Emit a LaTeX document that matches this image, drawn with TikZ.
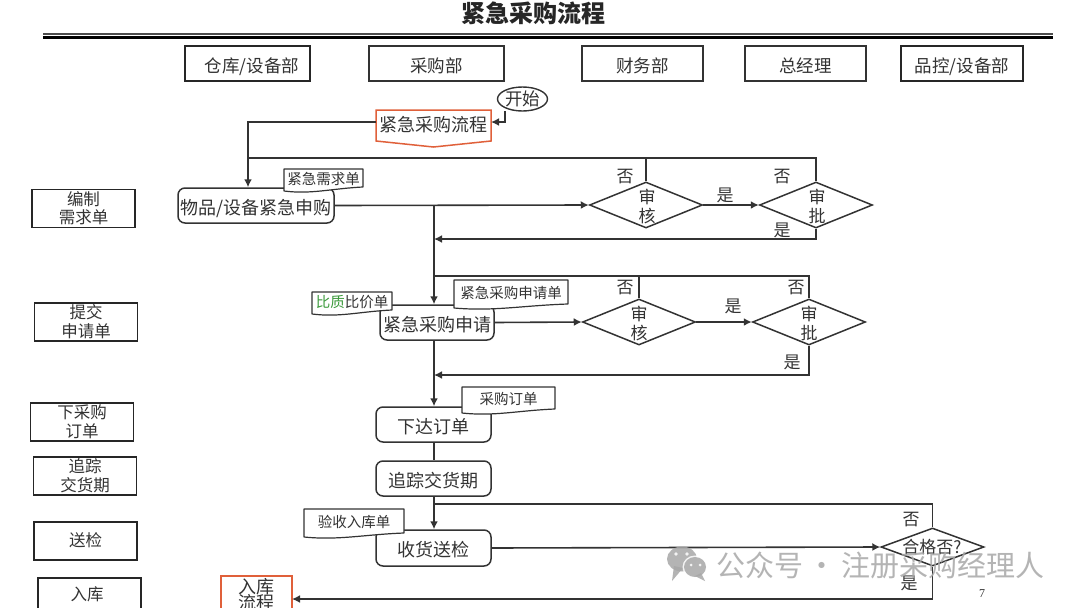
\documentclass[tikz,border=0pt]{standalone}
\usepackage{fontspec}
\setmainfont{Noto Sans CJK SC}
\newfontfamily\serifnum{Liberation Serif}
\usetikzlibrary{arrows.meta,shapes.geometric,calc}
\definecolor{ink}{HTML}{333333}
\definecolor{orangeedge}{HTML}{E0603A}
\definecolor{greenword}{HTML}{3C9A3C}
\definecolor{wmgray}{HTML}{A8A8A8}
\newcommand{\fs}[1]{\fontsize{#1}{#1}\selectfont}
% name, x1, ytop, x2, y bottom right, y bottom left, text
\newcommand{\docnode}[7]{%
  \path[draw=ink,line width=1.2pt,fill=white,line join=round]
    (#2,#3) -- (#4,#3) -- (#4,#5)
    .. controls ({#2+(#4-#2)*0.6},{#5+1.5}) and ({#2+(#4-#2)*0.35},{#6+3.5}) .. (#2,#6) -- cycle;
  \node[tx,font=\fs{14.5}] (#1) at ({(#2+#4)/2},{(#3+#5)/2}) {#7};}
\tikzset{
  x=1pt,y=-1pt,
  tx/.style={inner sep=0pt,text=ink,align=center,font=\fs{17},yshift=-1pt},
  lowtxt/.style={text height=21pt,text depth=4pt},
  hdrthick/.style={draw=black!85,line width=1.9pt,fill=white,inner sep=0pt,text=ink,font=\fs{17.5},lowtxt,minimum width=#1,minimum height=35pt},
  hdrthin/.style={draw=ink,line width=1.1pt,fill=white,inner sep=0pt,text=ink,font=\fs{17.5},lowtxt,minimum width=#1,minimum height=35pt},
  sidebox/.style={draw=black!85,line width=1.8pt,fill=white,inner sep=0pt,minimum width=103pt,minimum height=38pt},
  sidetx/.style={inner sep=0pt,text=ink,align=center,font=\fs{16.5},yshift=0.5pt},
  proc/.style={draw=ink,line width=1.5pt,rounded corners=7pt,fill=white,inner sep=0pt,text=ink,font=\fs{18},lowtxt,minimum width=#1,minimum height=35pt},
  dia/.style={draw=ink,line width=1.5pt,diamond,aspect=2.4,inner sep=0pt,fill=white,minimum width=#1,minimum height=46pt},
  wire/.style={draw=ink,line width=1.6pt},
  arr/.style={wire,-{Latex[length=8pt,width=8pt]}},
  redge/.style={draw=orangeedge,line width=1.5pt,fill=white},
}
\begin{document}
\begin{tikzpicture}
\useasboundingbox[fill=white] (0,0) rectangle (1080,608);
\begin{scope}
\clip (0,0) rectangle (1080,608);
% title
\node[inner sep=0pt,text=black!85,font=\fs{24}\bfseries] (title) at (533,13) {紧急采购流程};
\coordinate (ruleL) at (43,34); \coordinate (ruleR) at (1053,34);
\draw[line width=1.1pt,black!70] (ruleL) -- (ruleR);
\draw[line width=2.8pt,black] ($(ruleL)+(0,3.5)$) -- ($(ruleR)+(0,3.5)$);
% headers
\node[hdrthick=125pt] (h1) at (247.5,63.5) {\hspace{9pt}仓库/设备部};
\node[hdrthin=135pt] (h2) at (436.5,63.5) {采购部};
\node[hdrthin=121pt] (h3) at (642.5,63.5) {财务部};
\node[hdrthin=121pt,line width=1.5pt] (h4) at (805.5,63.5) {总经理};
\node[hdrthick=122pt] (h5) at (962,63.5) {品控/设备部};
% left column
\node[sidebox] (s1) at (83.5,208.5) {};
\node[sidebox] (s2) at (86,322) {};
\node[sidebox] (s3) at (82,422) {};
\node[sidebox] (s4) at (85,476) {};
\node[sidebox] (s5) at (85.5,541) {};
\node[sidebox,anchor=north west] (s6) at (37,577) {};
\node[sidetx] (s1t) at (s1) {编制\\[2pt]需求单};
\node[sidetx] (s2t) at (s2) {提交\\[2pt]申请单};
\node[sidetx] (s3t) at (s3) {下采购\\[2pt]订单};
\node[sidetx] (s4t) at (s4) {追踪\\[2pt]交货期};
\node[sidetx] (s5t) at (s5) {送检};
\node[sidetx] (s6t) at (87,595) {入库};
% junction coordinates
\coordinate (topL) at (248,158);
\coordinate (main) at (434,205);
\coordinate (loop2) at (434,276);
\coordinate (back1) at (434,239);
\coordinate (back2) at (434,375);
\coordinate (loop3) at (434,504);
\coordinate (sd) at (505,111);
% nodes
\node[draw=ink,line width=1.4pt,ellipse,fill=white,inner sep=0pt,minimum width=50pt,minimum height=24pt,text=ink,font=\fs{17.5}] (start) at (522.5,99) {开始};
\path[redge] (376,110) -- (491,110) -- (491,141) -- (433.5,147) -- (376,141) -- cycle;
\coordinate (pL) at (376,122); \coordinate (pR) at (491,122);
\node[tx,font=\fs{18}] (p) at (433.5,124) {紧急采购流程};
\node[proc=156pt] (b1) at (256,205.5) {物品/设备紧急申购};
\node[dia=113pt] (d1) at (646,205) {};
\node[dia=113pt] (d2) at (816,205) {};
\node[proc=114pt] (b2) at (437,322.5) {紧急采购申请};
\node[dia=113pt] (d3) at (639,322) {};
\node[dia=113pt] (d4) at (809,322) {};
\node[proc=115pt] (b3) at (433.5,424.5) {下达订单};
\node[proc=115pt] (b4) at (433.5,478.5) {追踪交货期};
\node[proc=115pt,minimum height=36pt] (b5) at (433.5,548) {收货送检};
\node[dia=103pt,minimum height=38pt] (d5) at (932.5,547) {};
\path[redge] (221,576) rectangle (292,625);
\coordinate (inbox) at (292,599);
\node[tx,font=\fs{18}] (inb) at (256,594) {入库\\[-2pt]流程};
% connectors
\draw[arr] (sd) |- (pR);
\draw[wire] (pL) -| (topL);
\draw[arr,line width=2pt] (topL) -- (topL |- b1.north);
\draw[wire] (topL) -| (d2.north);
\draw[wire] (d1.north) -- (d1.north |- topL);
\draw[arr] (b1.east) -- (d1.west);
\draw[arr] (d1.east) -- (d2.west);
\draw[arr] (d2.south) |- (back1);
\draw[arr] (main) -- (main |- b2.north);
\draw[wire] (loop2) -| (d4.north);
\draw[wire] (d3.north) -- (d3.north |- loop2);
\draw[arr] (b2.east) -- (d3.west);
\draw[arr] (d3.east) -- (d4.west);
\draw[arr] (d4.south) |- (back2);
\draw[arr] (main |- b2.south) -- (main |- b3.north);
\draw[wire] (main |- b3.south) -- (main |- b4.north);
\draw[arr] (main |- b4.south) -- (main |- b5.north);
\draw[wire] (loop3) -| (d5.north);
\draw[arr] (b5.east) -- (d5.west);
\draw[arr] (d5.south) |- (inbox);
% documents
\docnode{n1}{284}{169}{363}{187}{191}{紧急需求单}
\docnode{n2}{312}{292}{392}{310}{314}{\textcolor{greenword}{比质}比价单}
\docnode{n3}{454}{280}{568}{304}{308}{紧急采购申请单}
\docnode{n4}{462}{387}{555}{409}{413}{采购订单}
\docnode{n5}{304}{509}{404}{533}{537}{验收入库单}
% diamond texts and yes/no
\node[tx] (d1t) at (647,205) {审\\[2pt]核};
\node[tx] (d2t) at (817,205) {审\\[2pt]批};
\node[tx] (d3t) at (639,322) {审\\[2pt]核};
\node[tx] (d4t) at (809,322) {审\\[2pt]批};
\node[tx] (d5t) at (932,546) {合格否?};
\node[tx] (y1) at (625,176) {否};
\node[tx] (y2) at (725,194) {是};
\node[tx] (y3) at (782,176) {否};
\node[tx] (y4) at (782,229) {是};
\node[tx] (y5) at (625,287) {否};
\node[tx] (y6) at (733,305) {是};
\node[tx] (y7) at (796,287) {否};
\node[tx] (y8) at (792,361) {是};
\node[tx] (y9) at (911,519) {否};
\node[tx] (y10) at (909,582) {是};
\node[inner sep=0pt,text=ink,font=\serifnum\fs{12}] (pg) at (982,594) {7};
% watermark
\begin{scope}[opacity=.85]
\fill[wmgray] (682,559) ellipse (15 and 12.5);
\fill[wmgray] (683,568) -- (672,581) -- (674,566) -- cycle;
\fill[white] (695,567) ellipse (12.5 and 11.5);
\fill[wmgray] (695,567) ellipse (11 and 10);
\fill[wmgray] (701,573) -- (705,581) -- (695,576) -- cycle;
\fill[white] (676,554) circle (1.8) (687,554) circle (1.8) (691,565) circle (1.5) (700,565) circle (1.5);
\node[inner sep=0pt,text=wmgray,font=\fs{29}] (wm) at (880.5,565) {公众号\,·\,注册采购经理人};
\end{scope}
\end{scope}
\end{tikzpicture}
\end{document}
